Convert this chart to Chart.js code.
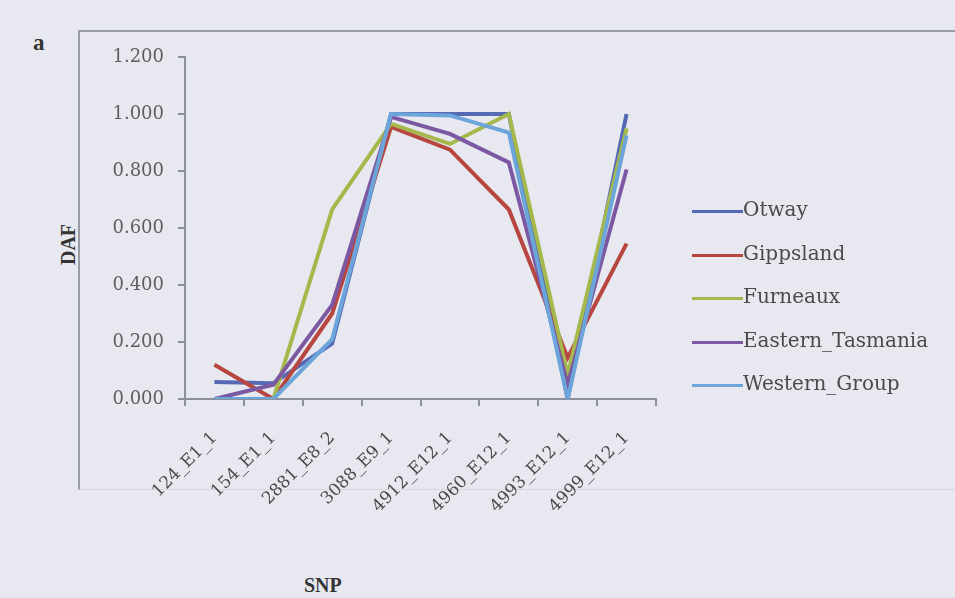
<!DOCTYPE html>
<html>
<head>
<meta charset="utf-8">
<script src="https://cdn.jsdelivr.net/npm/chart.js@4/dist/chart.umd.min.js"></script>
<style>
  body { margin: 0; background: #e8e9f0; }
  #wrap { position: relative; width: 955px; height: 598px; overflow: hidden; }
  #frame { position: absolute; left: 78px; top: 30px; width: 900px; height: 457px;
           border-left: 2px solid #9a9ca3; border-top: 2px solid #9a9ca3; border-bottom: 1px solid #d6d8e0; }
  .lbl { position: absolute; font-family: 'Liberation Serif', serif; font-weight: bold; color: #333; }
  #legend { position: absolute; left: 692px; top: 197px; font-family: 'DejaVu Serif', serif; font-size: 20px; color: #4a4a4a; }
  #legend div { height: 43.5px; display: flex; align-items: flex-start; }
  #legend span.line { display: inline-block; width: 51px; height: 3px; margin-top: 13px; }
</style>
</head>
<body>
<div id="wrap">
  <div id="frame"></div>
  <div class="lbl" style="left:33px; top:30px; font-size:23px;">a</div>
  <div class="lbl" style="left:48px; top:233px; font-size:20px; transform: rotate(-90deg);">DAF</div>
  <div class="lbl" style="left:304px; top:574px; font-size:20px;">SNP</div>
  <canvas id="myChart" width="955" height="598" style="position:absolute;left:0;top:0;"></canvas>
  <div id="legend"></div>
</div>
<script>
// SNP 이름들
let snps = ['124_E1_1', '154_E1_1', '2881_E8_2', '3088_E9_1', '4912_E12_1', '4960_E12_1', '4993_E12_1', '4999_E12_1'];
let seriesNames = ['Otway', 'Gippsland', 'Furneaux', 'Eastern_Tasmania', 'Western_Group'];

let otway = [0.06, 0.055, 0.195, 1.0, 1.0, 1.0, 0.0, 1.0];
let gippsland = [0.12, 0.0, 0.30, 0.955, 0.875, 0.665, 0.145, 0.545];
let furneaux = [0.0, 0.0, 0.665, 0.965, 0.895, 1.0, 0.085, 0.95];
let easternTasmania = [0.0, 0.05, 0.33, 0.99, 0.93, 0.83, 0.05, 0.805];
let westernGroup = [0.0, 0.0, 0.21, 1.0, 0.995, 0.935, 0.0, 0.925];

let yTicks = [0, 0.2, 0.4, 0.6, 0.8, 1.0, 1.2];

let colors = ['#5669b5', '#b6463f', '#a4b84b', '#7b58a1', '#6ca5d9'];
let allValues = [otway, gippsland, furneaux, easternTasmania, westernGroup];

let ctx = document.getElementById('myChart').getContext('2d');

let lineChart = new Chart(ctx, {
  type: 'line',
  data: {
    labels: snps,
    datasets: allValues.map((vals, i) => ({
      label: seriesNames[i],
      data: vals,
      borderColor: colors[i],
      backgroundColor: colors[i],
      borderWidth: 4,
      pointRadius: 0,
      tension: 0,
      order: 5 - i // Western_Group 가 맨 위
    }))
  },
  options: {
    responsive: false,
    animation: false,
    layout: {
      padding: { left: 0, top: 57, right: 299, bottom: 0 }
    },
    plugins: {
      legend: { display: false },
      tooltip: { enabled: false }
    },
    scales: {
      x: {
        offset: true,
        grid: { drawOnChartArea: false, offset: true, color: '#8e9097', tickLength: 7, lineWidth: 2 },
        border: { color: '#8e9097', width: 2 },
        ticks: {
          minRotation: 45, maxRotation: 45, padding: 22,
          color: '#4a4a4a',
          font: { family: 'DejaVu Serif', size: 17 }
        },
        afterFit: s => { s.height = 199; }
      },
      y: {
        min: 0, max: 1.2,
        afterBuildTicks: s => { s.ticks = yTicks.map(v => ({ value: v })); },
        grid: { drawOnChartArea: false, color: '#8e9097', tickLength: 7, lineWidth: 2 },
        border: { color: '#8e9097', width: 2 },
        ticks: {
          padding: 14,
          color: '#5e5e5e',
          font: { family: 'DejaVu Serif', size: 18 },
          callback: v => v.toFixed(3)
        },
        afterFit: s => { s.width = 185; }
      }
    }
  }
});

// 범례 (오른쪽)
let legend = document.getElementById('legend');
lineChart.data.datasets.forEach(ds => {
  let row = document.createElement('div');
  row.innerHTML = '<span class="line" style="background:' + ds.borderColor + '"></span><span>' + ds.label + '</span>';
  legend.appendChild(row);
});
</script>
</body>
</html>
